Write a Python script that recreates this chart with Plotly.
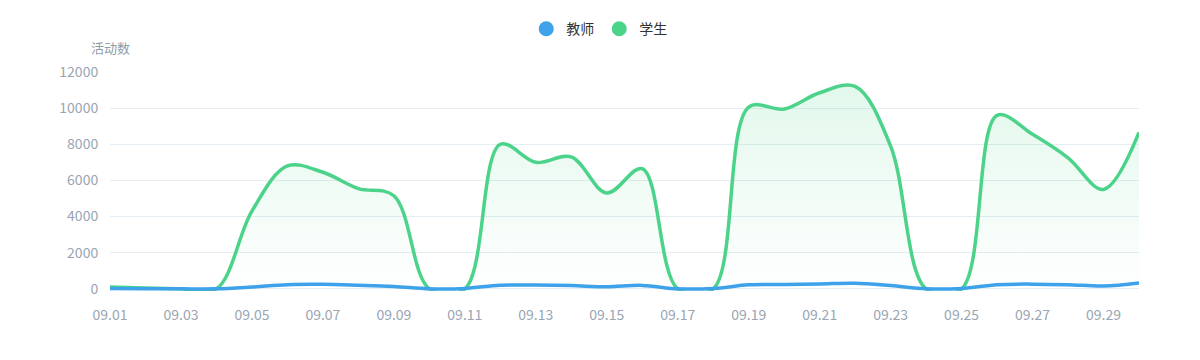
import plotly.graph_objects as go

dates = ["09.%02d" % d for d in range(1, 31)]
teacher = [20, 10, 0, 0, 100, 230, 250, 200, 130, 0,
           20, 200, 210, 180, 110, 190, 0, 20, 220, 240,
           270, 310, 180, 0, 20, 230, 260, 230, 160, 330]
student = [100, 40, 0, 0, 4300, 6800, 6450, 5550, 5150, 0,
           0, 8000, 7000, 7300, 5300, 6650, 0, 0, 10050, 9950,
           10850, 11200, 7900, 0, 0, 9600, 8550, 7250, 5500, 8650]
tick_labels = dates[::2]
y_ticks = [0, 2000, 4000, 6000, 8000, 10000, 12000]
y_tick_text = ["0", "2000", "4000", "6000", "8000", "10000", "12000"]

BLUE = "#3DA2E9"
GREEN = "#4CD38A"
FONT = "Microsoft YaHei, Noto Sans CJK SC, sans-serif"

fig = go.Figure()
fig.add_trace(go.Scatter(
    x=dates, y=student, mode="lines", name="学生", showlegend=False,
    line=dict(color=GREEN, width=3.5, shape="spline", smoothing=1),
    fill="tozeroy",
    fillgradient=dict(type="vertical",
                      colorscale=[[0, "rgba(76,211,138,0.0)"], [1, "rgba(76,211,138,0.16)"]]),
))
fig.add_trace(go.Scatter(
    x=dates, y=teacher, mode="lines", name="教师", showlegend=False,
    line=dict(color=BLUE, width=3.5, shape="spline", smoothing=1),
))
# legend entries (circle markers)
fig.add_trace(go.Scatter(x=[None], y=[None], mode="markers", name="教师",
                         marker=dict(color=BLUE, size=15, symbol="circle")))
fig.add_trace(go.Scatter(x=[None], y=[None], mode="markers", name="学生",
                         marker=dict(color=GREEN, size=15, symbol="circle")))

fig.update_layout(
    width=1192, height=352,
    margin=dict(l=102, r=61, t=64, b=69),
    paper_bgcolor="white", plot_bgcolor="white",
    font=dict(family=FONT, size=14, color="#99A5B3"),
    legend=dict(orientation="h", xref="container", yref="container",
                x=0.496, xanchor="center", y=0.94, yanchor="middle",
                font=dict(size=14, color="#333333"), itemwidth=30, traceorder="normal"),
    annotations=[dict(text="活动数", xref="paper", yref="paper", x=0, y=1.11,
                      xanchor="center", yanchor="middle", showarrow=False,
                      font=dict(size=13, color="#8E9BA9", family=FONT))],
)
fig.update_xaxes(
    type="category", range=[0, 29], tickmode="array", tickvals=tick_labels,
    ticktext=tick_labels, showgrid=False, zeroline=False, showline=False,
    ticks="outside", ticklen=11, tickcolor="rgba(0,0,0,0)",
    tickfont=dict(size=14, color="#99A5B3"),
)
fig.update_yaxes(
    range=[-120, 12000], tickmode="array", tickvals=y_ticks, ticktext=y_tick_text,
    showgrid=True, gridcolor="#E5EDF2", gridwidth=1, zeroline=False, showline=False,
    ticks="outside", ticklen=8, tickcolor="rgba(0,0,0,0)",
    tickfont=dict(size=14, color="#99A5B3"),
)
fig.write_html("out.html")
